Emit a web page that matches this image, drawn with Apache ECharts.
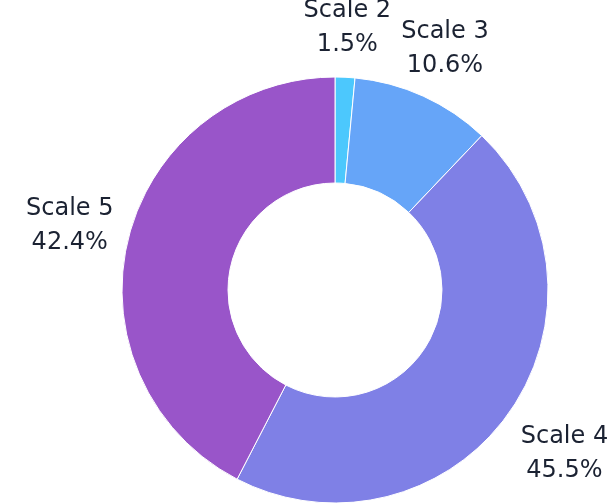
<!DOCTYPE html>
<html>
<head>
<meta charset="utf-8">
<script src="https://cdn.jsdelivr.net/npm/echarts@6/dist/echarts.min.js"></script>
<style>
  html, body { margin: 0; padding: 0; background: #fff; }
  #result { width: 616px; height: 504px; }
</style>
</head>
<body>
<div id="result"></div>
<script>
// 数据
var categories = ['Scale 2', 'Scale 3', 'Scale 4', 'Scale 5'];
var values = [1.5, 10.6, 45.5, 42.4];
var colors = ['#4cc8fd', '#66a5f8', '#7f80e6', '#9955c9'];

var cx = 335, cy = 290;    // 圆心
var rIn = 107, rOut = 213; // 内外半径
var labelGap = 15;         // 标签离外圈的距离

var total = values.reduce(function (a, b) { return a + b; }, 0);

// 计算每个扇区中间角度（从12点钟方向顺时针）
function midAngle(idx) {
    var acc = 0;
    for (var i = 0; i < idx; i++) acc += values[i];
    return (acc + values[idx] / 2) / total * Math.PI * 2;
}

var option = {
    animation: false,
    color: colors,
    series: [
        {
            type: 'pie',
            center: [cx, cy],
            radius: [rIn, rOut],
            startAngle: 90,
            clockwise: true,
            itemStyle: {
                borderColor: '#fff',
                borderWidth: 1
            },
            label: {
                show: true,
                position: 'outside',
                formatter: function (p) { return p.name + '\n' + p.value + '%'; },
                fontFamily: 'DejaVu Sans',
                fontSize: 24,
                lineHeight: 34,
                color: '#1b2232',
                overflow: 'none'
            },
            labelLine: { show: false },
            // 标签放在扇区中线方向，文字框贴近外圈
            labelLayout: function (params) {
                var a = midAngle(params.dataIndex);
                var dx = Math.sin(a), dy = -Math.cos(a);
                var hw = params.labelRect.width / 2, hh = params.labelRect.height / 2;
                var t = Math.min(
                    Math.abs(dx) > 1e-6 ? hw / Math.abs(dx) : Infinity,
                    Math.abs(dy) > 1e-6 ? hh / Math.abs(dy) : Infinity
                );
                var r = rOut + labelGap + t;
                return {
                    x: cx + r * dx,
                    y: cy + r * dy,
                    align: 'center',
                    verticalAlign: 'middle'
                };
            },
            data: categories.map(function (c, i) {
                return { name: c, value: values[i] };
            })
        }
    ]
};

var myResult = echarts.init(document.getElementById('result'));
myResult.setOption(option);
</script>
</body>
</html>
